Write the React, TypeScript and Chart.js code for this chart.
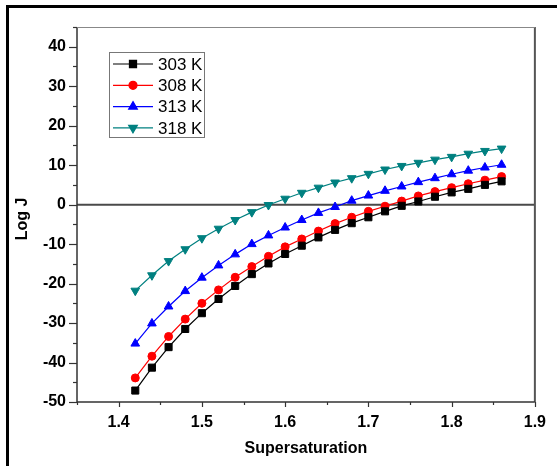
import React, { useEffect, useRef } from "react";
import { Chart, registerables } from "chart.js";
import { drawPoint } from "chart.js/helpers";

Chart.register(...registerables);

const supersaturation = [1.42, 1.44, 1.46, 1.48, 1.5, 1.52, 1.54, 1.56, 1.58, 1.6, 1.62, 1.64, 1.66, 1.68, 1.7, 1.72, 1.74, 1.76, 1.78, 1.8, 1.82, 1.84, 1.86];

const logJ303 = [-47.1, -41.3, -36.1, -31.5, -27.5, -23.9, -20.6, -17.6, -14.9, -12.5, -10.4, -8.3, -6.4, -4.7, -3.2, -1.7, -0.3, 0.8, 2.0, 3.1, 4.0, 5.0, 5.9];
const logJ308 = [-43.9, -38.4, -33.4, -29.0, -25.0, -21.6, -18.4, -15.7, -13.1, -10.7, -8.7, -6.7, -4.8, -3.2, -1.7, -0.4, 0.9, 2.2, 3.3, 4.3, 5.3, 6.2, 7.1];
const logJ313 = [-35.2, -30.1, -25.8, -21.9, -18.5, -15.4, -12.6, -10.0, -7.8, -5.8, -3.9, -2.1, -0.6, 1.0, 2.3, 3.5, 4.6, 5.7, 6.7, 7.7, 8.6, 9.4, 10.1];
const logJ318 = [-21.8, -17.9, -14.3, -11.3, -8.5, -6.1, -3.9, -1.9, -0.1, 1.5, 3.0, 4.3, 5.6, 6.7, 7.8, 8.9, 9.8, 10.6, 11.4, 12.1, 12.9, 13.6, 14.2];

const seriesLabels = ["303 K", "308 K", "313 K", "318 K"];
const seriesColors = ["#000000", "#ff0000", "#0000ff", "#008080"];
const seriesStyles = ["rect", "circle", "triangle", "triangle"];
const seriesRotation = [0, 0, 0, 180];
const seriesRadius = [5, 4, 5, 5];

const xTicks = [1.4, 1.5, 1.6, 1.7, 1.8, 1.9];
const yTicks = [-50, -40, -30, -20, -10, 0, 10, 20, 30, 40];
const yTitle = "Log J";
const xTitle = "Supersaturation";

const FONT = "'Liberation Sans', Arial, Helvetica, sans-serif";

const decorPlugin = {
  id: "decor",
  beforeDraw(chart: any) {
    const { ctx, width, height } = chart;
    ctx.save();
    ctx.fillStyle = "#ffffff";
    ctx.fillRect(0, 0, width, height);
    ctx.fillStyle = "#000000";
    ctx.fillRect(6, 5, width - 6, 3);
    ctx.fillRect(6, 5, 3, height - 5);
    ctx.restore();
  },
  beforeDatasetsDraw(chart: any) {
    const { ctx, chartArea } = chart;
    const xs = chart.scales.x;
    const ys = chart.scales.y;
    const { left, right, top, bottom } = chartArea;
    ctx.save();
    const y0 = ys.getPixelForValue(0);
    ctx.strokeStyle = "#4a4a4a";
    ctx.lineWidth = 2;
    ctx.beginPath();
    ctx.moveTo(left, y0);
    ctx.lineTo(right, y0);
    ctx.stroke();
    ctx.strokeStyle = "#555555";
    ctx.lineWidth = 2;
    ctx.beginPath();
    ctx.moveTo(right, top);
    ctx.lineTo(right, bottom);
    ctx.stroke();
    ctx.strokeStyle = "#333333";
    ctx.lineWidth = 1.5;
    ctx.beginPath();
    ctx.moveTo(left, top);
    ctx.lineTo(left, bottom);
    ctx.lineTo(right, bottom);
    ctx.stroke();
    ctx.strokeStyle = "#888888";
    ctx.lineWidth = 1;
    ctx.beginPath();
    ctx.moveTo(left, top + 0.5);
    ctx.lineTo(right, top + 0.5);
    ctx.stroke();
    ctx.strokeStyle = "#333333";
    ctx.lineWidth = 1.2;
    for (let v = -50; v <= 45; v += 5) {
      const y = Math.round(ys.getPixelForValue(v)) + 0.5;
      const len = v % 10 === 0 ? 8 : 4;
      ctx.beginPath();
      ctx.moveTo(left - len, y);
      ctx.lineTo(left, y);
      ctx.stroke();
    }
    for (let i = 0; i <= 11; i++) {
      const v = 1.35 + i * 0.05;
      const x = Math.round(xs.getPixelForValue(v)) + 0.5;
      const len = i % 2 === 1 ? 5 : 3;
      ctx.beginPath();
      ctx.moveTo(x, bottom);
      ctx.lineTo(x, bottom + len);
      ctx.stroke();
    }
    // y-axis title
    ctx.save();
    ctx.translate(23, 219);
    ctx.rotate(-Math.PI / 2);
    ctx.fillStyle = "#000";
    ctx.font = `bold 16px ${FONT}`;
    ctx.textAlign = "center";
    ctx.textBaseline = "middle";
    ctx.fillText(yTitle, 0, 0);
    ctx.restore();
    ctx.restore();
  },
  afterDraw(chart: any) {
    const { ctx } = chart;
    ctx.save();
    ctx.fillStyle = "#ffffff";
    ctx.fillRect(109.5, 52.5, 95, 85);
    ctx.strokeStyle = "#777777";
    ctx.lineWidth = 1;
    ctx.strokeRect(109.5, 52.5, 95, 85);
    chart.data.datasets.forEach((ds: any, i: number) => {
      const cy = 64 + i * 21.3;
      ctx.strokeStyle = ds.borderColor;
      ctx.lineWidth = 1.2;
      ctx.beginPath();
      ctx.moveTo(113, cy);
      ctx.lineTo(153, cy);
      ctx.stroke();
      ctx.fillStyle = ds.pointBackgroundColor;
      ctx.strokeStyle = ds.pointBorderColor;
      drawPoint(ctx, { pointStyle: ds.pointStyle, rotation: ds.pointRotation, radius: ds.pointRadius, borderWidth: 1 }, 133, cy);
      ctx.fillStyle = "#000000";
      ctx.font = `17px ${FONT}`;
      ctx.textBaseline = "middle";
      ctx.textAlign = "left";
      ctx.fillText(ds.label, 158, cy + 1);
    });
    ctx.restore();
  },
};

export default function App() {
  const canvasRef = useRef<HTMLCanvasElement | null>(null);

  useEffect(() => {
    const canvas = canvasRef.current;
    if (!canvas) return;
    const allSeries = [logJ303, logJ308, logJ313, logJ318];
    const chart = new Chart(canvas, {
      type: "line",
      data: {
        datasets: allSeries.map((vals, i) => ({
          label: seriesLabels[i],
          data: supersaturation.map((x, j) => ({ x, y: vals[j] })),
          borderColor: seriesColors[i],
          backgroundColor: seriesColors[i],
          pointBackgroundColor: seriesColors[i],
          pointBorderColor: seriesColors[i],
          pointStyle: seriesStyles[i] as any,
          pointRotation: seriesRotation[i],
          pointRadius: seriesRadius[i],
          pointBorderWidth: 1,
          borderWidth: 1.2,
          tension: 0,
          fill: false,
        })),
      },
      options: {
        responsive: false,
        animation: false,
        layout: { padding: { left: 0, top: 27, right: 21, bottom: 0 } },
        plugins: { legend: { display: false }, tooltip: { enabled: false } },
        scales: {
          x: {
            type: "linear",
            min: 1.35,
            max: 1.9,
            grid: { display: false, drawTicks: false },
            border: { display: false },
            afterBuildTicks: (scale: any) => {
              scale.ticks = xTicks.map((v) => ({ value: v }));
            },
            afterFit: (scale: any) => {
              scale.height = 64;
            },
            ticks: {
              padding: 11,
              color: "#000",
              font: { family: FONT, size: 16, weight: "bold" },
              callback: (v: any) => Number(v).toFixed(1),
              maxRotation: 0,
              autoSkip: false,
            },
            title: {
              display: true,
              text: xTitle,
              color: "#000",
              font: { family: FONT, size: 16, weight: "bold" },
              padding: { top: 0, bottom: 8 },
            },
          },
          y: {
            type: "linear",
            min: -50,
            max: 45,
            grid: { display: false, drawTicks: false },
            border: { display: false },
            afterBuildTicks: (scale: any) => {
              scale.ticks = yTicks.map((v) => ({ value: v }));
            },
            afterFit: (scale: any) => {
              scale.width = 77;
            },
            ticks: {
              padding: 11,
              color: "#000",
              font: { family: FONT, size: 16, weight: "bold" },
              autoSkip: false,
            },
            title: { display: false },
          },
        },
      },
      plugins: [decorPlugin],
    });
    return () => chart.destroy();
  }, []);

  return (
    <div style={{ position: "absolute", left: 0, top: 0, width: 557, height: 466 }}>
      <canvas ref={canvasRef} width={557} height={466} style={{ display: "block" }} />
    </div>
  );
}
